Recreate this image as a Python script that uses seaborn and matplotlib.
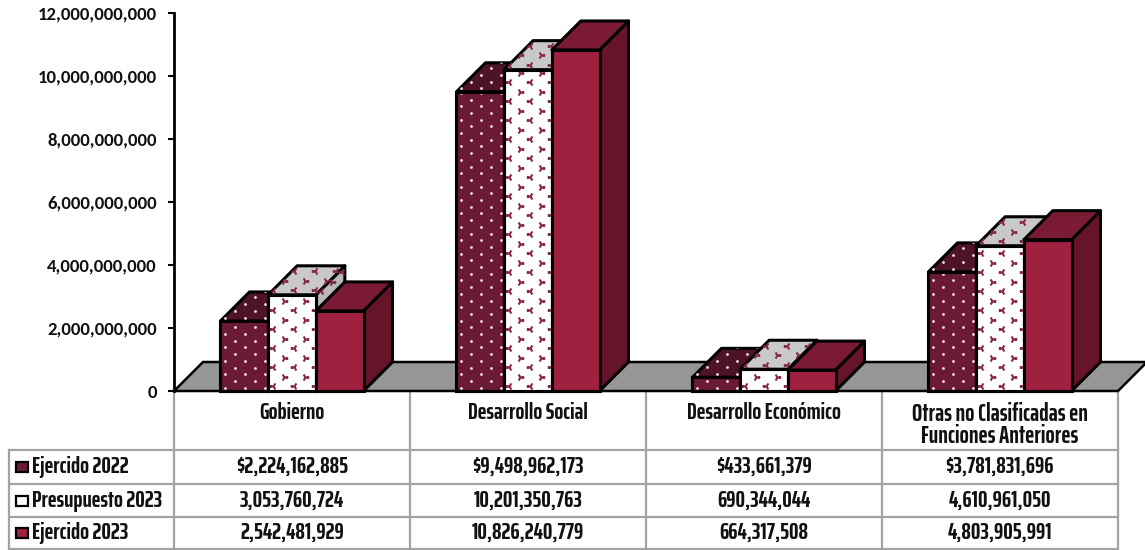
import numpy as np
import pandas as pd
import seaborn as sns
import matplotlib as mpl
from matplotlib import pyplot as plt
from matplotlib.patches import Polygon, Rectangle

funciones = ['Gobierno', 'Desarrollo Social', 'Desarrollo Económico', 'Otras no Clasificadas en\nFunciones Anteriores']
series = ['Ejercido 2022', 'Presupuesto 2023', 'Ejercido 2023']
ejercido_2022 = [2224162885, 9498962173, 433661379, 3781831696]
presupuesto_2023 = [3053760724, 10201350763, 690344044, 4610961050]
ejercido_2023 = [2542481929, 10826240779, 664317508, 4803905991]
yticks = [0, 2000000000, 4000000000, 6000000000, 8000000000, 10000000000, 12000000000]

front_colors = ['#6b1a33', '#ffffff', '#a02040']
top_colors = ['#4f1329', '#c9c9c9', '#7a1a35']
side_colors = ['#4f1329', '#b8b8b8', '#651429']

NARROW = ['Saira ExtraCondensed', 'Saira SemiCondensed', 'Liberation Sans']

sns.set_theme(style='white')
mpl.rcParams['font.family'] = ['Carlito', 'Lato', 'DejaVu Sans']

df = pd.DataFrame({
    'funcion': funciones * 3,
    'serie': np.repeat(series, 4),
    'monto': ejercido_2022 + presupuesto_2023 + ejercido_2023,
})

W, H = 1145, 550
fig = plt.figure(figsize=(W / 100, H / 100), dpi=100)
ax = fig.add_axes([174 / W, (H - 391) / H, 944 / W, 378 / H])

sns.barplot(data=df, x='funcion', y='monto', hue='serie', hue_order=series,
            palette=front_colors, saturation=1, width=0.606, legend=False,
            edgecolor='black', linewidth=2.2, ax=ax)

# depth of the fake 3d, same in px on both axes
dx = 29 / 236
dy = 29 / 378 * 12e9


def pattern(verts, kind, z):
    """fill a polygon with the small print of the original"""
    xs, ys = zip(*verts)
    clip = Polygon(verts, closed=True, transform=ax.transData, fill=False, lw=0)
    ax.add_patch(clip)
    if kind == 'dots':
        step_x, step_y = 10 / 236, 6.7 / 378 * 12e9
        groups = [('o', '#f3dfe6', 4)]
    else:
        step_x, step_y = 10.5 / 236, 9.5 / 378 * 12e9
        groups = [('3', '#8a2a4a', 30), ('4', '#8a2a4a', 30)]
    cols = np.arange(min(xs), max(xs) + step_x, step_x)
    rows = np.arange(min(ys), max(ys) + step_y, step_y)
    for j, (marker, color, size) in enumerate(groups):
        px, py = [], []
        for c, cx in enumerate(cols):
            for r, ry in enumerate(rows):
                if kind == 'dots':
                    keep = (c + r) % 2 == 0
                else:
                    keep = c % 2 == j and (r + j) % 2 == 0
                if keep:
                    px.append(cx + step_x * 0.5)
                    py.append(ry + step_y * 0.5)
        coll = ax.scatter(px, py, marker=marker, s=size, color=color,
                          linewidths=1.5 if kind != 'dots' else 0, zorder=z)
        coll.set_clip_path(clip)


zbase = 5
for s, container in enumerate(ax.containers):
    for bar in container:
        x0, w, h = bar.get_x(), bar.get_width(), bar.get_height()
        x1 = x0 + w
        z = zbase + s * 4
        side = [(x1, 0), (x1 + dx, dy), (x1 + dx, h + dy), (x1, h)]
        top = [(x0, h), (x1, h), (x1 + dx, h + dy), (x0 + dx, h + dy)]
        front = [(x0, 0), (x1, 0), (x1, h), (x0, h)]
        ax.add_patch(Polygon(side, closed=True, fc=side_colors[s], ec='black', lw=2.2,
                             joinstyle='round', clip_on=False, zorder=z))
        ax.add_patch(Polygon(top, closed=True, fc=top_colors[s], ec='black', lw=2.2,
                             joinstyle='round', clip_on=False, zorder=z))
        bar.set_zorder(z + 1)
        bar.set_clip_on(False)
        if s == 0:
            pattern(top, 'dots', z + 0.5)
            pattern(front, 'dots', z + 2)
        elif s == 1:
            pattern(top, 'tri', z + 0.5)
            pattern(side, 'tri', z + 0.5)
            pattern(front, 'tri', z + 2)
        # outline again, the print sits on the front fill
        ax.add_patch(Rectangle((x0, 0), w, h, fill=False, ec='black', lw=2.2,
                               clip_on=False, zorder=z + 3))

# grey floor of the 3d box
floor = [(-0.5, 0), (3.5, 0), (3.5 + dx, dy), (-0.5 + dx, dy)]
ax.add_patch(Polygon(floor, closed=True, fc='#969696', ec='black', lw=1.8,
                     clip_on=False, zorder=1))

ax.set_xlim(-0.5, 3.5)
ax.set_ylim(0, 12e9)
ax.set_xlabel('')
ax.set_ylabel('')
ax.set_xticks([])
ax.set_yticks(yticks)
ax.set_yticklabels([f'{v:,}' for v in yticks], fontweight='bold', fontsize=13.5, color='#111111')
ax.tick_params(axis='y', left=True, length=4.5, width=1.5, color='black', pad=8)
ax.patch.set_alpha(0)
sns.despine(ax=ax, top=True, right=True, bottom=True)
ax.spines['left'].set_linewidth(2)
ax.spines['left'].set_color('black')

# table under the chart, laid out in px
page = fig.add_axes([0, 0, 1, 1], zorder=-1)
page.set_xlim(0, W)
page.set_ylim(H, 0)
page.axis('off')

col_x = [174, 410, 646, 882, 1118]
row_y = [450, 484, 517, 549]
line = dict(color='#a3a3a3', lw=1.6, solid_capstyle='projecting')
for x in col_x:
    page.plot([x, x], [392, row_y[-1]], **line)
page.plot([9, 9], [row_y[0], row_y[-1]], **line)
for y in row_y:
    page.plot([9, 1118], [y, y], **line)

txt = dict(family=NARROW, fontweight='bold', color='#111111')
for i, name in enumerate(funciones):
    cx = (col_x[i] + col_x[i + 1]) / 2
    if '\n' in name:
        page.text(cx, 425, name, ha='center', va='center', linespacing=0.9, fontsize=17.5, **txt)
    else:
        page.text(cx, 413, name, ha='center', va='center', fontsize=17, **txt)

rows = [ejercido_2022, presupuesto_2023, ejercido_2023]
for r, vals in enumerate(rows):
    cy = (row_y[r] + row_y[r + 1]) / 2
    page.add_patch(Rectangle((16, cy - 5), 12, 10, fc=front_colors[r], ec='black', lw=1.6))
    page.text(32, cy, series[r], ha='left', va='center', fontsize=17, **txt)
    for i, v in enumerate(vals):
        cx = (col_x[i] + col_x[i + 1]) / 2
        label = f'${v:,}' if r == 0 else f'{v:,}'
        page.text(cx, cy, label, ha='center', va='center', fontsize=17, **txt)

fig.savefig('out.png', dpi=100)
